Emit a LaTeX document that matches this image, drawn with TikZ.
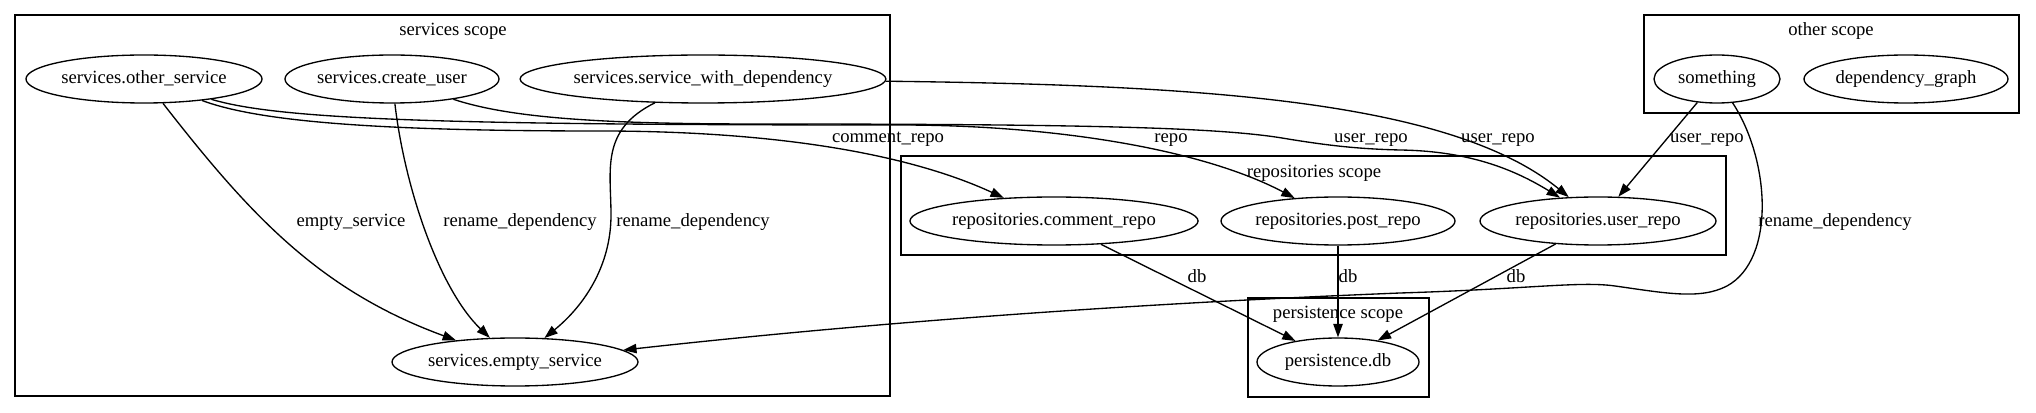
\documentclass[tikz,border=0pt]{standalone}
\usepackage{fontspec}
\setmainfont{Liberation Serif}
\usetikzlibrary{shapes.geometric,arrows.meta}
\begin{document}
\begin{tikzpicture}[x=0.75pt,y=-0.75pt,
  gtext/.style={font=\fontsize{14}{16}\selectfont,text height=9.5pt,text depth=2.5pt},
  gnode/.style={gtext,draw,ellipse,line width=1pt,inner sep=0pt,minimum height=36pt,minimum width=#1},
  cluster/.style={draw,line width=1pt},
  lbl/.style={gtext,inner sep=0pt},
  edge/.style={draw,line width=1pt,-{Triangle[length=10pt,width=7pt]}}]
\fill[white] (0,0) rectangle (2036,413);
\useasboundingbox (0,0) rectangle (2036,413);

% clusters
\draw[cluster] (15,15) rectangle (890,396);
\draw[cluster] (1644,15) rectangle (2019,113);
\draw[cluster] (901,156) rectangle (1726,255);
\draw[cluster] (1248,298) rectangle (1429,397);
\node[lbl] (csvc) at (453,31) {services scope};
\node[lbl] (coth) at (1831,31) {other scope};
\node[lbl] (crep) at (1314,173) {repositories scope};
\node[lbl] (cper) at (1338,314) {persistence scope};

% nodes
\node[gnode=177pt]   (os)  at (144,79)  {services.other\_service};
\node[gnode=160.5pt] (cu)  at (392,79)  {services.create\_user};
\node[gnode=265.5pt] (swd) at (703,79)  {services.service\_with\_dependency};
\node[gnode=184.5pt] (es)  at (515,362) {services.empty\_service};
\node[gnode=214.5pt] (cr)  at (1054,221) {repositories.comment\_repo};
\node[gnode=175.5pt] (pr)  at (1338,221) {repositories.post\_repo};
\node[gnode=177pt]   (ur)  at (1598,221) {repositories.user\_repo};
\node[gnode=121.5pt] (db)  at (1338,362) {persistence.db};
\node[gnode=94.5pt]  (smth) at (1717,79) {something};
\node[gnode=153pt]   (dg)  at (1906,79) {dependency\_graph};

% edges
\draw[edge] (os) .. controls (250,215) and (319,290) .. (es);
\draw[edge] (cu) .. controls (405,190) and (440,290) .. (es);
\draw[edge] (swd) .. controls (600,130) and (611,170) .. (611,215)
  .. controls (611,265) and (585,305) .. (es);
\draw[edge] (smth) .. controls (1770,160) and (1776,259) .. (1727,286)
  .. controls (1700,300) and (1665,293) .. (1615,286)
  .. controls (1580,281) and (1530,289) .. (1400,293)
  .. controls (1100,305) and (850,325) .. (es);
\draw[edge] (smth) -- (ur);
\draw[edge] (swd) .. controls (1200,85) and (1450,100) .. (ur);
\draw[edge] (cu) .. controls (510,118) and (600,124) .. (760,124)
  .. controls (1100,124) and (1220,128) .. (1282,138)
  .. controls (1330,146) and (1360,149) .. (1400,150)
  .. controls (1470,151) and (1515,170) .. (ur);
\draw[edge] (os) .. controls (280,120) and (450,125) .. (900,125)
  .. controls (1050,125) and (1200,148) .. (pr);
\draw[edge] (os) .. controls (260,122) and (380,131) .. (600,131)
  .. controls (760,131) and (900,150) .. (cr);
\draw[edge] (cr) -- (db);
\draw[edge] (pr) -- (db);
\draw[edge] (ur) -- (db);

% edge labels
\node[lbl] (l1) at (888,138) {comment\_repo};
\node[lbl] (l2) at (1171,138) {repo};
\node[lbl] (l3) at (1371,138) {user\_repo};
\node[lbl] (l4) at (1498,138) {user\_repo};
\node[lbl] (l5) at (1707,138) {user\_repo};
\node[lbl] (l6) at (351,222) {empty\_service};
\node[lbl] (l7) at (520,222) {rename\_dependency};
\node[lbl] (l8) at (693,222) {rename\_dependency};
\node[lbl] (l9) at (1835,222) {rename\_dependency};
\node[lbl] (l10) at (1197,278) {db};
\node[lbl] (l11) at (1348,278) {db};
\node[lbl] (l12) at (1516,278) {db};
\end{tikzpicture}
\end{document}
